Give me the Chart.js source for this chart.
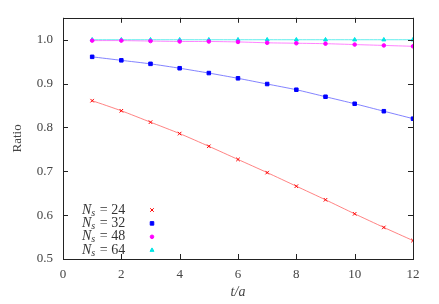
<!DOCTYPE html>
<html>
<head>
<meta charset="utf-8">
<script src="https://cdn.jsdelivr.net/npm/chart.js@4/dist/chart.umd.min.js"></script>
<style>
  html, body { margin: 0; padding: 0; background: #fff; }
  #wrap { width: 439px; height: 304px; }
</style>
</head>
<body>
<div id="wrap"><canvas id="grafica" width="439" height="304"></canvas></div>
<script>
// t/a values
const tValues = [1, 2, 3, 4, 5, 6, 7, 8, 9, 10, 11, 12];
// ratio for each N_s
const ratio24 = [0.861, 0.838, 0.812, 0.786, 0.757, 0.727, 0.697, 0.666, 0.635, 0.603, 0.572, 0.542];
const ratio32 = [0.961, 0.953, 0.945, 0.935, 0.924, 0.912, 0.899, 0.886, 0.870, 0.854, 0.837, 0.820];
const ratio48 = [0.998, 0.998, 0.997, 0.996, 0.996, 0.995, 0.993, 0.992, 0.991, 0.989, 0.987, 0.985];
const ratio64 = [1.000, 1.000, 1.000, 1.000, 1.000, 1.000, 1.000, 1.000, 1.000, 1.000, 1.000, 1.000];
const sizes = ['24', '32', '48', '64'];
const xTicks = [0, 2, 4, 6, 8, 10, 12];
const yTicks = [0.5, 0.6, 0.7, 0.8, 0.9, 1.0];

const serif = "'Liberation Serif', 'DejaVu Serif', serif";

function pts(vals) {
    return tValues.map((t, i) => ({x: t, y: vals[i]}));
}

function makeSet(label, vals, color, lineColor, style, radius) {
    return {
        label: label,
        data: pts(vals),
        borderColor: lineColor,
        backgroundColor: color,
        pointBorderColor: color,
        pointBackgroundColor: color,
        pointStyle: style,
        pointRadius: radius,
        pointBorderWidth: 1,
        borderWidth: 1,
        tension: 0.2
    };
}

const datasets = [
    makeSet(sizes[0], ratio24, '#ff0000', 'rgba(255,100,100,0.8)', 'crossRot', 2.5),
    makeSet(sizes[1], ratio32, '#0000ff', 'rgba(100,100,255,0.8)', 'rect', 2.5),
    makeSet(sizes[2], ratio48, '#ff00ff', 'rgba(255,100,255,0.8)', 'circle', 1.8),
    makeSet(sizes[3], ratio64, '#00e5e5', 'rgba(80,235,235,0.9)', 'triangle', 2.3)
];

// box around the plot + inward ticks on all sides
const frame = {
    id: 'frame',
    afterDraw(chart) {
        const ctx = chart.ctx;
        const a = chart.chartArea;
        const xs = chart.scales.x, ys = chart.scales.y;
        ctx.save();
        ctx.strokeStyle = '#222';
        ctx.lineWidth = 1;
        ctx.strokeRect(Math.round(a.left) + 0.5, Math.round(a.top) + 0.5,
            Math.round(a.right - a.left), Math.round(a.bottom - a.top));
        ctx.beginPath();
        xTicks.forEach(v => {
            const px = Math.round(xs.getPixelForValue(v)) + 0.5;
            ctx.moveTo(px, a.bottom); ctx.lineTo(px, a.bottom - 5);
            ctx.moveTo(px, a.top); ctx.lineTo(px, a.top + 5);
        });
        yTicks.forEach(v => {
            const py = Math.round(ys.getPixelForValue(v)) + 0.5;
            ctx.moveTo(a.left, py); ctx.lineTo(a.left + 5, py);
            ctx.moveTo(a.right, py); ctx.lineTo(a.right - 5, py);
        });
        ctx.stroke();
        ctx.restore();
    }
};

// legend: text on the left, marker on the right
const legendBox = {
    id: 'legendBox',
    afterDraw(chart) {
        const ctx = chart.ctx;
        ctx.save();
        ctx.textBaseline = 'middle';
        chart.data.datasets.forEach((ds, i) => {
            const y = 210 + i * 13.4;
            let x = 82;
            ctx.fillStyle = '#333';
            ctx.font = 'italic 14px ' + serif;
            ctx.fillText('N', x, y);
            x += ctx.measureText('N').width;
            ctx.font = 'italic 10px ' + serif;
            ctx.fillText('s', x, y + 3);
            x += ctx.measureText('s').width + 1;
            ctx.font = '14px ' + serif;
            ctx.fillText(' = ' + ds.label, x, y);
            ctx.fillStyle = ds.pointBackgroundColor;
            ctx.strokeStyle = ds.pointBorderColor;
            ctx.lineWidth = 1;
            Chart.helpers.drawPoint(ctx, {
                pointStyle: ds.pointStyle,
                radius: ds.pointRadius,
                rotation: 0,
                borderWidth: 1
            }, 152, y);
        });
        ctx.restore();
    }
};

const config = {
    type: 'line',
    data: { datasets: datasets },
    options: {
        responsive: false,
        animation: false,
        layout: { padding: { top: 17, right: 26, left: 0, bottom: 0 } },
        plugins: { legend: { display: false }, tooltip: { enabled: false } },
        scales: {
            x: {
                type: 'linear',
                min: 0, max: 12,
                afterBuildTicks: s => { s.ticks = xTicks.map(v => ({value: v})); },
                afterFit: s => { s.height = 45; },
                grid: { display: false, drawTicks: false },
                border: { display: false },
                ticks: {
                    color: '#444', padding: 8,
                    font: { family: serif, size: 13 },
                    maxRotation: 0
                },
                title: {
                    display: true, text: 't/a', color: '#444',
                    font: { family: serif, size: 14, style: 'italic' },
                    padding: { top: 0, bottom: 3 }
                }
            },
            y: {
                type: 'linear',
                min: 0.5, max: 1.05,
                afterBuildTicks: s => { s.ticks = yTicks.map(v => ({value: v})); },
                afterFit: s => { s.width = 63; },
                grid: { display: false, drawTicks: false },
                border: { display: false },
                ticks: {
                    color: '#444', padding: 10,
                    font: { family: serif, size: 13 },
                    callback: v => v.toFixed(1)
                },
                title: {
                    display: true, text: 'Ratio', color: '#444',
                    font: { family: serif, size: 13 },
                    padding: { top: 10, bottom: 4 }
                }
            }
        }
    },
    plugins: [frame, legendBox]
};

const financeChart = new Chart(document.querySelector('#grafica'), config);
</script>
</body>
</html>
